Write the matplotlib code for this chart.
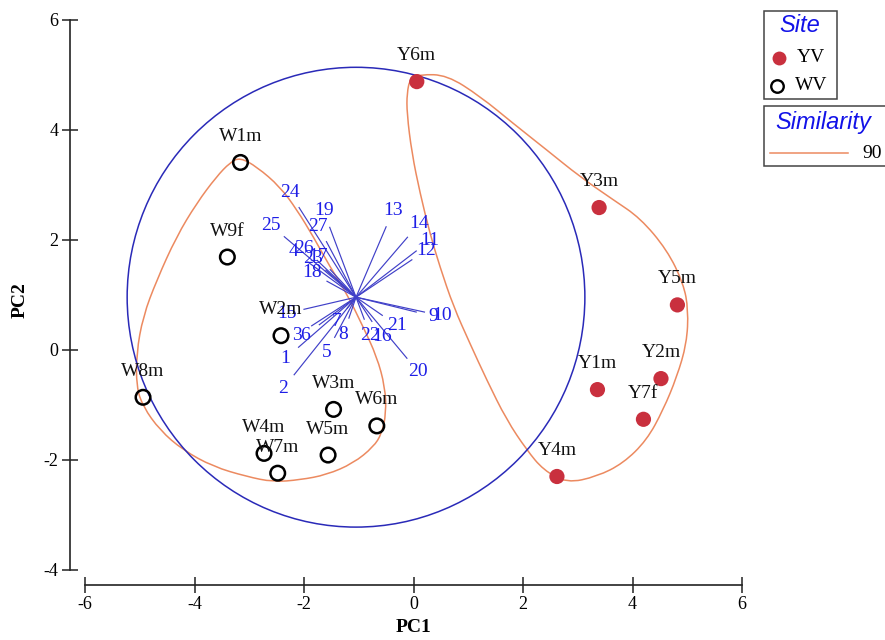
import matplotlib
matplotlib.use("Agg")
import matplotlib.pyplot as plt
import numpy as np
from matplotlib.path import Path
from matplotlib.patches import PathPatch, Circle, Rectangle
from matplotlib.lines import Line2D

plt.rcParams["axes.unicode_minus"] = False

SERIF = ["Liberation Serif", "DejaVu Serif"]
SANS = ["Liberation Sans", "DejaVu Sans"]

# ---- sample scores on the first two principal components ----
yv_names = ["Y6m", "Y3m", "Y5m", "Y2m", "Y1m", "Y7f", "Y4m"]
yv_pc1 = [0.06, 3.39, 4.82, 4.52, 3.36, 4.20, 2.62]
yv_pc2 = [4.88, 2.59, 0.82, -0.52, -0.72, -1.26, -2.30]

wv_names = ["W1m", "W9f", "W2m", "W8m", "W3m", "W6m", "W5m", "W4m", "W7m"]
wv_pc1 = [-3.16, -3.40, -2.42, -4.94, -1.46, -0.67, -1.56, -2.73, -2.48]
wv_pc2 = [3.41, 1.69, 0.26, -0.86, -1.08, -1.38, -1.91, -1.88, -2.24]

# ---- variable vectors (drawn from a common origin) ----
vec_labels = [str(i) for i in range(1, 28)]
vec_dx = [-1.05, -1.13, -0.81, -0.88, -0.39, -0.67, -0.16, -0.13, 1.10, 1.25,
          1.10, 1.02, 0.55, 0.94, -0.95, 0.29, -0.47, -0.53, -0.48, 0.93,
          0.48, 0.15, -0.55, -1.04, -1.31, -0.71, -0.54]
vec_dy = [-0.91, -1.41, -0.52, 0.64, -0.73, -0.50, -0.20, -0.38, -0.27, -0.27,
          0.84, 0.68, 1.28, 1.09, -0.22, -0.44, 0.50, 0.29, 1.27, -1.11,
          -0.33, -0.40, 0.49, 1.63, 1.10, 0.67, 1.01]
vec_origin = (-1.05, 0.96)
circle_radius = 4.18

# ---- similarity (90%) contours around each group ----
contour_w_pc1 = [-3.17, -2.86, -2.44, -2.13, -1.83, -1.53, -1.22, -0.92, -0.67, -0.52,
                 -0.50, -0.58, -0.73, -1.10, -1.59, -2.07, -2.56, -3.05, -3.66, -4.21,
                 -4.63, -4.94, -5.06, -5.06, -4.94, -4.69, -4.33, -3.96, -3.60, -3.35]
contour_w_pc2 = [3.50, 3.33, 2.97, 2.55, 2.06, 1.52, 1.03, 0.42, -0.12, -0.67,
                 -1.15, -1.52, -1.76, -2.06, -2.27, -2.36, -2.40, -2.30, -2.12, -1.82,
                 -1.46, -1.03, -0.67, -0.06, 0.61, 1.27, 2.06, 2.67, 3.15, 3.41]
contour_y_pc1 = [-0.06, 0.12, 0.61, 1.22, 1.82, 2.43, 3.04, 3.65, 4.14, 4.63,
                 4.93, 5.02, 4.99, 4.81, 4.56, 4.26, 3.83, 3.35, 2.80, 2.37,
                 2.07, 1.70, 1.34, 1.03, 0.73, 0.48, 0.30, 0.12, -0.03, -0.12, -0.12]
contour_y_pc2 = [4.94, 5.01, 5.00, 4.61, 4.12, 3.64, 3.15, 2.73, 2.40, 1.82,
                 1.21, 0.73, 0.12, -0.49, -1.09, -1.64, -2.06, -2.30, -2.42, -2.18,
                 -1.82, -1.27, -0.55, 0.12, 0.79, 1.52, 2.12, 2.85, 3.58, 4.30, 4.67]
similarity_level = "90"

RED = "#c9303e"
VEC_LINE = "#4040c8"
VEC_TEXT = "#1e1ee6"
CIRCLE = "#2a2ab8"
CONTOUR = "#ec8a60"

W, H = 885, 640
fig = plt.figure(figsize=(W / 100, H / 100), dpi=100)
fig.patch.set_facecolor("white")


def fx(px):
    return px / W


def fy(py):
    return 1 - py / H


ax = fig.add_axes([fx(85), fy(570), 657 / W, 550 / H])
ax.set_xlim(-6, 6)
ax.set_ylim(-4, 6)
ax.set_facecolor("none")

for side in ("top", "right"):
    ax.spines[side].set_visible(False)
for side in ("left", "bottom"):
    ax.spines[side].set_position(("outward", 11))
    ax.spines[side].set_color("#222222")
    ax.spines[side].set_linewidth(1.2)
ax.spines["left"].set_bounds(-4, 6)
ax.spines["bottom"].set_bounds(-6, 6)
ax.set_xticks([-6, -4, -2, 0, 2, 4, 6])
ax.set_yticks([-4, -2, 0, 2, 4, 6])
ax.tick_params(direction="inout", length=12, width=1.1, color="#222222",
               labelsize=13, pad=2)
for lab in ax.get_xticklabels() + ax.get_yticklabels():
    lab.set_family(SERIF)


def smooth_closed(xs, ys):
    pts = np.column_stack([xs, ys])
    nxt = np.roll(pts, -1, axis=0)
    mids = (pts + nxt) / 2
    verts = [mids[-1]]
    codes = [Path.MOVETO]
    for p, m in zip(pts, mids):
        verts += [p, m]
        codes += [Path.CURVE3, Path.CURVE3]
    return Path(verts, codes)


for cx, cy in ((contour_w_pc1, contour_w_pc2), (contour_y_pc1, contour_y_pc2)):
    ax.add_patch(PathPatch(smooth_closed(cx, cy), facecolor="none",
                           edgecolor=CONTOUR, lw=1.1, zorder=2))

ax.add_patch(Circle(vec_origin, circle_radius, facecolor="none",
                    edgecolor=CIRCLE, lw=1.1, zorder=2))

ox, oy = vec_origin
for lab, dx, dy in zip(vec_labels, vec_dx, vec_dy):
    ax.plot([ox, ox + dx], [oy, oy + dy], color=VEC_LINE, lw=0.85, zorder=3)
    n = np.hypot(dx, dy)
    ax.text(ox + dx + 0.32 * dx / n, oy + dy + 0.32 * dy / n, lab,
            color=VEC_TEXT, fontsize=14, family=SERIF,
            ha="center", va="center", zorder=4)

ax.scatter(yv_pc1, yv_pc2, s=120, color=RED, edgecolors="none", zorder=5)
ax.scatter(wv_pc1, wv_pc2, s=110, facecolors="none", edgecolors="black",
           linewidths=1.8, zorder=5)

for names, xs, ys in ((yv_names, yv_pc1, yv_pc2), (wv_names, wv_pc1, wv_pc2)):
    for n, x, y in zip(names, xs, ys):
        ax.annotate(n, (x, y), xytext=(0, 26), textcoords="offset pixels",
                    ha="center", va="center", fontsize=14, family=SERIF,
                    color="#111111", zorder=6)

fig.text(fx(414), fy(628), "PC1", ha="center", va="center", fontsize=14,
         fontweight="bold", family=SERIF)
fig.text(fx(20), fy(300), "PC2", ha="center", va="center", fontsize=14,
         fontweight="bold", family=SERIF, rotation=90)

# ---- legends ----
fig.patches.append(Rectangle((fx(764), fy(99)), 73 / W, 88 / H, transform=fig.transFigure,
                             facecolor="white", edgecolor="#444444", lw=1.1))
fig.text(fx(800), fy(26), "Site", ha="center", va="center", fontsize=17,
         style="italic", family=SANS, color="#1212e8")
fig.add_artist(Line2D([fx(779)], [fy(58)], marker="o", ms=10, color=RED,
                      mec="none", transform=fig.transFigure))
fig.text(fx(797), fy(58), "YV", ha="left", va="center", fontsize=14, family=SERIF)
fig.add_artist(Line2D([fx(777)], [fy(86)], marker="o", ms=9, mfc="none",
                      mec="black", mew=1.7, transform=fig.transFigure))
fig.text(fx(795), fy(86), "WV", ha="left", va="center", fontsize=14, family=SERIF)

fig.patches.append(Rectangle((fx(764), fy(166)), 140 / W, 60 / H, transform=fig.transFigure,
                             facecolor="white", edgecolor="#444444", lw=1.1))
fig.text(fx(775), fy(122), "Similarity", ha="left", va="center", fontsize=17,
         style="italic", family=SANS, color="#1212e8")
fig.add_artist(Line2D([fx(770), fx(848)], [fy(153), fy(153)], color=CONTOUR, lw=1.1,
                      transform=fig.transFigure))
fig.text(fx(862), fy(153), similarity_level, ha="left", va="center", fontsize=14,
         family=SERIF)

fig.savefig("out.png", dpi=100)
